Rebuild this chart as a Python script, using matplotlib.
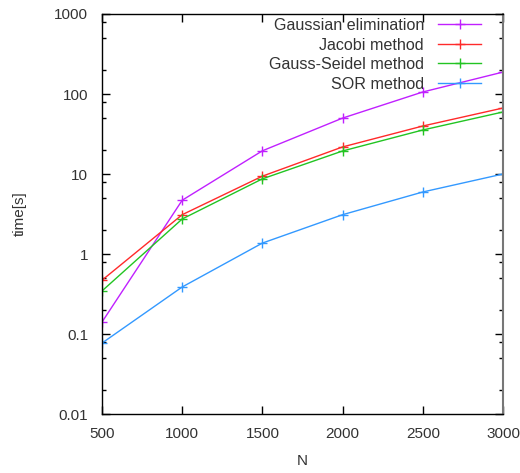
import matplotlib.pyplot as plt
from matplotlib.ticker import FixedLocator, NullFormatter

plt.rcParams['font.family'] = ['Liberation Sans', 'DejaVu Sans']

# matrix size and measured solve times
N = [500, 1000, 1500, 2000, 2500, 3000]
gauss_elim = [0.141, 4.7, 19.5, 50, 106, 188]
jacobi = [0.47, 3.1, 9.4, 21.8, 39.8, 66.8]
gauss_seidel = [0.345, 2.74, 8.7, 19.4, 35.5, 59.6]
sor = [0.077, 0.387, 1.37, 3.1, 5.96, 10.0]

labels = ['Gaussian elimination', 'Jacobi method', 'Gauss-Seidel method', 'SOR method']
colors = ['#c020ff', '#ff2a2a', '#22c422', '#3399ff']
series = [gauss_elim, jacobi, gauss_seidel, sor]

text_color = '#333333'

fig = plt.figure(figsize=(5.2, 4.73), dpi=100)
ax = fig.add_axes([102 / 520, 1 - 414 / 473, 401 / 520, 400 / 473])

for vals, lab, c in zip(series, labels, colors):
    ax.plot(N, vals, color=c, lw=1.0, marker='+', markersize=7,
            markeredgewidth=1.0, label=lab)

ax.set_yscale('log')
ax.set_xlim(500, 3000)
ax.set_ylim(0.01, 1000)
ax.set_xticks(N)
ax.set_xticklabels([str(n) for n in N])
ax.set_yticks([0.01, 0.1, 1, 10, 100, 1000])
ax.set_yticklabels(['0.01', '0.1', '1', '10', '100', '1000'])

minors = []
for d in [0.01, 0.1, 1, 10, 100]:
    minors += [2 * d, 5 * d, 8 * d]
ax.yaxis.set_minor_locator(FixedLocator(minors))
ax.yaxis.set_minor_formatter(NullFormatter())

ax.tick_params(which='both', direction='in', top=True, right=True,
               labelsize=11, labelcolor=text_color)
ax.tick_params(axis='y', which='major', length=6, width=1, pad=10)
ax.tick_params(axis='y', which='minor', length=3, width=1)
ax.tick_params(axis='x', which='major', length=6, width=1, pad=9)

for side in ['left', 'top', 'bottom']:
    ax.spines[side].set_color('black')
    ax.spines[side].set_linewidth(1.0)
ax.spines['right'].set_color('#777777')
ax.spines['right'].set_linewidth(1.5)

ax.set_xlabel('N', fontsize=11, color=text_color, labelpad=10)
ax.set_ylabel('time[s]', fontsize=11, color=text_color, labelpad=20)

leg = ax.legend(loc='upper right', markerfirst=False, frameon=False,
                fontsize=11.6, handlelength=2.7, handletextpad=0.85,
                labelspacing=0.28, borderaxespad=0.0,
                bbox_to_anchor=(0.962, 1.006))
for t in leg.get_texts():
    t.set_color(text_color)

fig.savefig('out.png', dpi=100, facecolor='white')
